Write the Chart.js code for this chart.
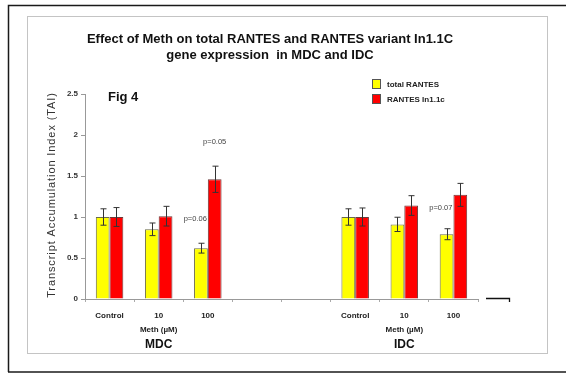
<!DOCTYPE html>
<html>
<head>
<meta charset="utf-8">
<script src="https://cdn.jsdelivr.net/npm/chart.js@4/dist/chart.umd.min.js"></script>
<style>
  html, body { margin: 0; padding: 0; background: #fff; }
  #wrap { width: 566px; height: 373px; position: relative; }
</style>
</head>
<body>
<div id="wrap"><canvas id="c" width="566" height="373"></canvas></div>
<script>
// Categories along the x axis (two blank slots separate the MDC and IDC groups)
const categories = ['Control', '10', '100', '', '', 'Control', '10', '100'];

// Transcript Accumulation Index, mean values
const totalRantes = [1.00, 0.85, 0.62, null, null, 1.00, 0.91, 0.79];
const rantesIn11c = [1.00, 1.01, 1.46, null, null, 1.00, 1.14, 1.27];

// Error bar half-widths (same units)
const totalRantesErr = [0.10, 0.077, 0.06, null, null, 0.10, 0.087, 0.067];
const rantesIn11cErr = [0.115, 0.12, 0.16, null, null, 0.11, 0.12, 0.14];

// Significance notes: [category index, text]
const pNotes = [
  [2, 'p=0.05'],
  [2, 'p=0.06'],
  [7, 'p=0.07']
];

const yTicks = [0, 0.5, 1, 1.5, 2, 2.5];

const seriesNames = ['total RANTES', 'RANTES In1.1c'];
const groupNames = ['MDC', 'IDC'];

const errs = [totalRantesErr, rantesIn11cErr];

const FONT = '"Liberation Sans", Arial, sans-serif';

const decorations = {
  id: 'decorations',
  beforeDraw(chart) {
    const ctx = chart.ctx;
    ctx.save();
    ctx.fillStyle = '#fff';
    ctx.fillRect(0, 0, chart.width, chart.height);
    // outer frame
    ctx.strokeStyle = '#1a1a1a';
    ctx.lineWidth = 1.5;
    ctx.beginPath();
    ctx.moveTo(566, 5.5);
    ctx.lineTo(8.5, 5.5);
    ctx.lineTo(8.5, 372);
    ctx.stroke();
    ctx.beginPath();
    ctx.moveTo(8, 372);
    ctx.lineTo(566, 372);
    ctx.stroke();
    // inner panel
    ctx.strokeStyle = '#c4c4c4';
    ctx.lineWidth = 1;
    ctx.strokeRect(27.5, 16.5, 520, 337);
    ctx.restore();
  },
  afterDatasetsDraw(chart) {
    const ctx = chart.ctx;
    const y = chart.scales.y;
    const x = chart.scales.x;
    ctx.save();
    // error bars
    ctx.strokeStyle = '#333';
    ctx.lineWidth = 1;
    [0, 1].forEach(di => {
      const meta = chart.getDatasetMeta(di);
      const vals = chart.data.datasets[di].data;
      meta.data.forEach((bar, i) => {
        if (vals[i] == null || errs[di][i] == null) return;
        const bx = Math.round(bar.x) + 0.5;
        const top = y.getPixelForValue(vals[i] + errs[di][i]);
        const bot = y.getPixelForValue(vals[i] - errs[di][i]);
        ctx.beginPath();
        ctx.moveTo(bx, top); ctx.lineTo(bx, bot);
        ctx.moveTo(bx - 3, top); ctx.lineTo(bx + 3, top);
        ctx.moveTo(bx - 3, bot); ctx.lineTo(bx + 3, bot);
        ctx.stroke();
      });
    });

    // p-value notes: first sits above the MDC 100 red bar, the others
    // right-aligned just left of the red bar of their category
    ctx.fillStyle = '#444';
    ctx.font = '7.5px ' + FONT;
    ctx.textBaseline = 'middle';
    const red = chart.getDatasetMeta(1).data;
    pNotes.forEach(([ci, txt], k) => {
      const bar = red[ci];
      if (k === 0) {
        const top = y.getPixelForValue(rantesIn11c[ci] + rantesIn11cErr[ci]);
        ctx.textAlign = 'center';
        ctx.fillText(txt, bar.x, top - 24);
      } else {
        ctx.textAlign = 'right';
        const left = bar.x - bar.width / 2;
        const yy = k === 1 ? 219 : 208;
        ctx.fillText(txt, left - 1, yy);
      }
    });

    // title
    ctx.fillStyle = '#111';
    ctx.textAlign = 'center';
    ctx.textBaseline = 'middle';
    ctx.font = 'bold 13px ' + FONT;
    ctx.fillText('Effect of Meth on total RANTES and RANTES variant In1.1C', 270, 39);
    ctx.fillText('gene expression  in MDC and IDC', 270, 55);

    // figure label
    ctx.textAlign = 'left';
    ctx.font = 'bold 13px ' + FONT;
    ctx.fillText('Fig 4', 108, 97);

    // legend
    const legendColors = ['#ffff00', '#ff0000'];
    ctx.font = 'bold 8px ' + FONT;
    seriesNames.forEach((name, i) => {
      const ly = 84 + i * 15;
      ctx.fillStyle = legendColors[i];
      ctx.fillRect(372, ly - 5, 9, 10);
      ctx.strokeStyle = '#555';
      ctx.strokeRect(372.5, ly - 4.5, 8, 9);
      ctx.fillStyle = '#222';
      ctx.fillText(name, 387, ly + 0.5);
    });

    // y axis title
    ctx.save();
    ctx.translate(52, 195);
    ctx.rotate(-Math.PI / 2);
    ctx.textAlign = 'center';
    ctx.fillStyle = '#333';
    ctx.font = '11px ' + FONT;
    if ('letterSpacing' in ctx) ctx.letterSpacing = '0.9px';
    ctx.fillText('Transcript Accumulation Index (TAI)', 0, 0);
    ctx.restore();

    // group captions under the axis
    ctx.textAlign = 'center';
    [1, 6].forEach((ci, gi) => {
      const cx = x.getPixelForValue(ci);
      ctx.fillStyle = '#222';
      ctx.font = 'bold 8px ' + FONT;
      ctx.fillText('Meth (\u00b5M)', cx, 330);
      ctx.fillStyle = '#111';
      ctx.font = 'bold 12px ' + FONT;
      ctx.fillText(groupNames[gi], cx, 345);
    });

    // short stub right of the axis end
    ctx.strokeStyle = '#111';
    ctx.lineWidth = 1.3;
    ctx.beginPath();
    ctx.moveTo(486, 298.5);
    ctx.lineTo(509.5, 298.5);
    ctx.lineTo(509.5, 302);
    ctx.stroke();
    ctx.restore();
  }
};

new Chart(document.getElementById('c'), {
  type: 'bar',
  data: {
    labels: categories,
    datasets: [
      {
        label: seriesNames[0],
        data: totalRantes,
        backgroundColor: '#ffff00',
        borderColor: '#6b6b4a',
        borderWidth: 1,
        categoryPercentage: 0.56,
        barPercentage: 1.0
      },
      {
        label: seriesNames[1],
        data: rantesIn11c,
        backgroundColor: '#ff0000',
        borderColor: '#6b3a3a',
        borderWidth: 1,
        categoryPercentage: 0.56,
        barPercentage: 1.0
      }
    ]
  },
  options: {
    responsive: false,
    animation: false,
    devicePixelRatio: 1,
    layout: { padding: { left: 0, top: 94, right: 88, bottom: 0 } },
    plugins: {
      legend: { display: false },
      title: { display: false },
      tooltip: { enabled: false }
    },
    scales: {
      x: {
        afterFit(s) { s.height = 74; },
        grid: {
          display: true,
          drawOnChartArea: false,
          offset: true,
          tickLength: 3,
          color: '#aaa'
        },
        border: { display: true, color: '#999', width: 1 },
        ticks: {
          color: '#222',
          font: { family: FONT, size: 8, weight: 'bold' },
          padding: 9,
          maxRotation: 0,
          autoSkip: false
        }
      },
      y: {
        min: 0,
        max: 2.5,
        afterFit(s) { s.width = 85; },
        afterBuildTicks(s) { s.ticks = yTicks.map(v => ({ value: v })); },
        grid: {
          display: true,
          drawOnChartArea: false,
          tickLength: 4,
          color: '#999'
        },
        border: { display: true, color: '#999', width: 1 },
        ticks: {
          color: '#333',
          font: { family: FONT, size: 8, weight: 'bold' },
          padding: 3,
          callback: v => String(v)
        }
      }
    }
  },
  plugins: [decorations]
});
</script>
</body>
</html>
